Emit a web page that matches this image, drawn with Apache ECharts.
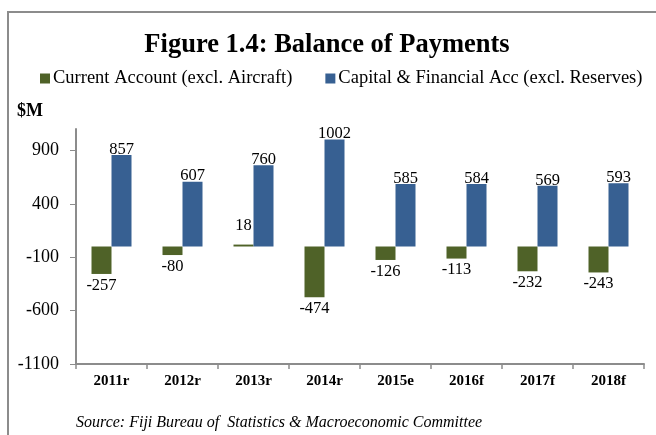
<!DOCTYPE html>
<html>
<head>
<meta charset="utf-8">
<script src="https://cdn.jsdelivr.net/npm/echarts@6/dist/echarts.min.js"></script>
<style>
    html, body { margin: 0; padding: 0; background: #fff; }
    #chart { width: 656px; height: 435px; }
</style>
</head>
<body>
<div id="chart"></div>
<script>
    // data
    const years = ['2011r', '2012r', '2013r', '2014r', '2015e', '2016f', '2017f', '2018f'];
    const currentAccount = [-257, -80, 18, -474, -126, -113, -232, -243];
    const capitalFinancial = [857, 607, 760, 1002, 585, 584, 569, 593];
    const yTicks = { min: -1100, max: 1100, step: 500 };

    const serif = 'Liberation Serif, Times New Roman, serif';
    const chart = echarts.init(document.getElementById('chart'));

    chart.setOption({
        animation: false,
        textStyle: { fontFamily: serif, color: '#000' },
        title: {
            text: 'Figure 1.4: Balance of Payments',
            left: 322, top: 27,
            textAlign: 'center',
            textStyle: { fontFamily: serif, fontSize: 26.5, fontWeight: 'bold', color: '#000' }
        },
        legend: {
            left: 35, top: 64,
            itemWidth: 10, itemHeight: 10, itemGap: 33,
            icon: 'rect',
            textStyle: { fontFamily: serif, fontSize: 18.5, color: '#000', padding: [0, 0, 0, -2] },
            data: ['Current Account (excl. Aircraft)', 'Capital & Financial Acc (excl. Reserves)']
        },
        grid: { left: 76, right: 12, top: 129, bottom: 71 },
        graphic: [
            // frame around the figure
            { type: 'rect', shape: { x: 8, y: 12, width: 700, height: 500 },
              style: { fill: 'none', stroke: '#8c8c8c', lineWidth: 2 } },
            { type: 'text', left: 17, top: 102,
              style: { text: '$M', font: 'bold 18px ' + serif, fill: '#000' } },
            { type: 'text', left: 76, top: 415,
              style: { text: 'Source: Fiji Bureau of  Statistics & Macroeconomic Committee',
                       font: 'italic 16px ' + serif, fill: '#000' } }
        ],
        xAxis: [
            {
                type: 'category',
                data: years,
                position: 'bottom',
                axisLine: { show: false },
                axisTick: { show: false },
                axisLabel: { margin: 10, fontFamily: serif, fontSize: 15, fontWeight: 'bold', color: '#000' }
            },
            {
                type: 'category',
                data: years,
                position: 'bottom',
                axisLine: { onZero: true, lineStyle: { color: '#8c8c8c', width: 2 } },
                axisTick: { show: true, length: 5, lineStyle: { color: '#8c8c8c', width: 1.5 } },
                axisLabel: { show: false }
            }
        ],
        yAxis: {
            type: 'value',
            min: yTicks.min, max: yTicks.max, interval: yTicks.step,
            splitLine: { show: false },
            axisLine: { show: true, lineStyle: { color: '#8c8c8c', width: 2 } },
            axisTick: { show: true, length: 6, lineStyle: { color: '#8c8c8c' } },
            axisLabel: {
                showMaxLabel: false, margin: 17,
                fontFamily: serif, fontSize: 18, color: '#000',
                formatter: v => String(v)
            }
        },
        series: [
            {
                name: 'Current Account (excl. Aircraft)',
                type: 'bar',
                data: currentAccount,
                barWidth: 20,
                barGap: '0%',
                itemStyle: { color: '#4f6228' },
                label: {
                    show: true,
                    position: 'outside',
                    distance: 3,
                    fontFamily: serif, fontSize: 16.5, color: '#000'
                },
                // the small positive label sits higher above its bar
                labelLayout: p => (currentAccount[p.dataIndex] > 0 ? { dy: -7 } : {})
            },
            {
                name: 'Capital & Financial Acc (excl. Reserves)',
                type: 'bar',
                data: capitalFinancial,
                barWidth: 20,
                itemStyle: { color: '#376092' },
                label: {
                    show: true, position: 'top', distance: -3,
                    fontFamily: serif, fontSize: 16.5, color: '#000'
                }
            }
        ]
    });
</script>
</body>
</html>
